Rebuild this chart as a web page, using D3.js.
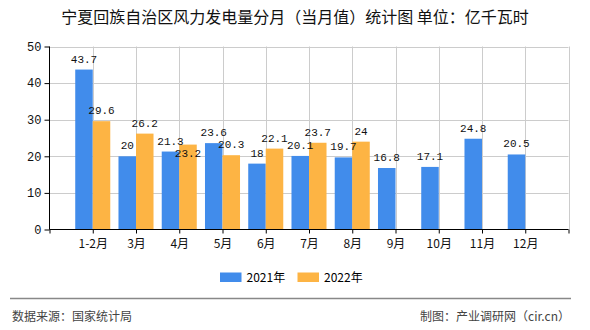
<!DOCTYPE html>
<html><head><meta charset="utf-8">
<script src="https://cdn.jsdelivr.net/npm/d3@7"></script>
<style>body{margin:0;background:#fff}</style>
</head><body>
<svg id="c" width="590" height="330"></svg>
<script>
const categories = ["1-2月","3月","4月","5月","6月","7月","8月","9月","10月","11月","12月"];
const series2021 = [43.7,20,21.3,23.6,18,20.1,19.7,16.8,17.1,24.8,20.5];
const series2022 = [29.6,26.2,23.2,20.3,22.1,23.7,24,null,null,null,null];
const seriesNames = ["2021年","2022年"];
const yTicks = [0,10,20,30,40,50];
const colors = ["#418CEB","#FDB444"];

const svg = d3.select("#c");
const cjk = "'Noto Sans CJK SC','Noto Sans',sans-serif";
const mono = "'Liberation Mono','DejaVu Sans Mono',monospace";
const L = 49.5, R = 568.5, T = 46.5, B = 229.5;
const x = d3.scaleLinear().domain([0, categories.length + 1]).range([L, R]);
const y = d3.scaleLinear().domain([0, 50]).range([B, T]);
const step = x(1) - x(0);
const bw = step * 0.405;

// title
svg.append("text").attr("x", 295).attr("y", 23).attr("text-anchor","middle")
  .attr("font-family", cjk).attr("font-size", 16).attr("fill","#111")
  .text("宁夏回族自治区风力发电量分月（当月值）统计图 单位：亿千瓦时");

// grid
const g = svg.append("g");
g.selectAll(".hg").data(yTicks.filter(d=>d>0)).join("line")
  .attr("x1", L).attr("x2", R).attr("y1", d=>Math.round(y(d))+0.5).attr("y2", d=>Math.round(y(d))+0.5)
  .attr("stroke","#ccc");
g.selectAll(".vg").data(d3.range(1, categories.length + 2)).join("line")
  .attr("x1", d=>Math.round(x(d))+0.5).attr("x2", d=>Math.round(x(d))+0.5).attr("y1", T).attr("y2", B)
  .attr("stroke","#ccc");

// bars
const groups = [series2021, series2022];
groups.forEach((s, si) => {
  svg.append("g").selectAll("rect").data(s.map((v,i)=>({v,i})).filter(d=>d.v!=null)).join("rect")
    .attr("x", d => x(d.i+1) - (si===0 ? bw : 0))
    .attr("width", bw)
    .attr("y", d => y(d.v))
    .attr("height", d => B - y(d.v))
    .attr("fill", colors[si]);
});

// labels with simple overlap avoidance
const cw = 6, lh = 8;
const labels = [];
categories.forEach((c, i) => {
  const a = series2021[i], b = series2022[i];
  let la = null;
  if (a != null) {
    la = {x: x(i+1) - bw/2, y: y(a) - 7, t: String(a)};
    labels.push(la);
  }
  if (b != null) {
    let lb = {x: x(i+1) + bw/2, y: y(b) - 7, t: String(b)};
    if (la) {
      const wa = la.t.length*cw, wb = lb.t.length*cw;
      const hOver = Math.abs(la.x - lb.x) < (wa + wb)/2;
      const vOver = Math.abs(la.y - lb.y) < lh;
      if (hOver && vOver) lb.y = y(b) + 12;
    }
    labels.push(lb);
  }
});
svg.append("g").selectAll("text").data(labels).join("text")
  .attr("x", d=>d.x).attr("y", d=>d.y).attr("text-anchor","middle")
  .attr("font-family", mono).attr("font-size", 11).attr("fill","#111")
  .text(d=>d.t);

// axes
const yAxis = svg.append("g").attr("transform", `translate(${L},0)`)
  .call(d3.axisLeft(y).tickValues(yTicks).tickSize(5).tickPadding(3));
yAxis.select(".domain").attr("stroke","#000").attr("d", `M-0,${T}V${B}`);
yAxis.selectAll("text").attr("font-family", mono).attr("font-size", 12).attr("fill","#111");
yAxis.selectAll("line").attr("stroke","#000");

const xAxis = svg.append("g").attr("transform", `translate(0,${B})`)
  .call(d3.axisBottom(x).tickValues(d3.range(0, categories.length + 2)).tickSize(4)
    .tickFormat(d => (d>=1 && d<=categories.length) ? categories[d-1] : ""));
xAxis.select(".domain").attr("stroke","#000").attr("d", `M${L},0H${R}`);
xAxis.selectAll("line").attr("stroke","#000");
xAxis.selectAll("text").attr("font-family", cjk).attr("font-size", 12).attr("fill","#111").attr("dy","0.95em");

// legend
const lg = svg.append("g");
const lx = [220, 297.5];
seriesNames.forEach((n, i) => {
  lg.append("rect").attr("x", lx[i]).attr("y", 272.5).attr("width", 21.5).attr("height", 9.5).attr("fill", colors[i]);
  lg.append("text").attr("x", lx[i] + 26.5).attr("y", 281.5).attr("font-family", cjk).attr("font-size", 12).attr("fill","#000").text(n);
});

// divider and footer
svg.append("line").attr("x1",10).attr("x2",571).attr("y1",298.5).attr("y2",298.5).attr("stroke","#888").attr("stroke-width",1.5);
svg.append("text").attr("x",12).attr("y",321).attr("font-family",cjk).attr("font-size",12).attr("fill","#444").text("数据来源：国家统计局");
svg.append("text").attr("x",570).attr("y",321).attr("text-anchor","end").attr("font-family",cjk).attr("font-size",12).attr("fill","#444").text("制图：产业调研网（cir.cn）");
</script>
</body></html>
